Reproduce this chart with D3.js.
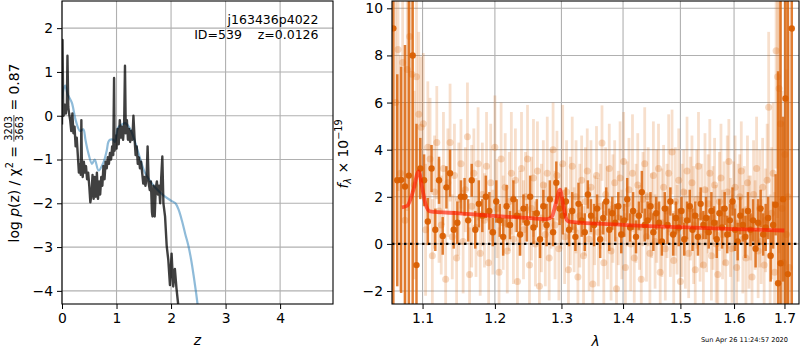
<!DOCTYPE html>
<html>
<head>
<meta charset="utf-8">
<script src="https://cdn.jsdelivr.net/npm/d3@7"></script>
<style>
  body { margin: 0; background: #fff; }
  svg { font-family: "DejaVu Sans", sans-serif; }
</style>
</head>
<body>
<div id="chart"></div>
<script>
// ---------- p(z) panel data ----------
const pzTicksX = [0, 1, 2, 3, 4];
const pzTicksY = [-4, -3, -2, -1, 0, 1, 2];

// fit p(z), dark line
const zFit = [
  0.00,0.01,0.02,0.03,0.05,0.07,0.09,0.10,0.115,0.13,
  0.15,0.17,0.19,0.21,0.23,0.25,0.27,0.29,0.31,0.33,
  0.345,0.355,0.365,0.38,0.40,0.42,0.44,0.46,0.48,0.50,
  0.52,0.54,0.56,0.58,0.60,0.62,0.64,0.66,0.68,0.70,
  0.72,0.74,0.76,0.78,0.80,0.82,0.84,0.86,0.88,0.90,
  0.92,0.94,0.955,0.965,0.98,1.00,1.02,1.04,1.06,1.08,
  1.10,1.12,1.14,1.155,1.17,1.19,1.21,1.23,1.25,1.27,
  1.29,1.31,1.33,1.35,1.37,1.39,1.41,1.43,1.45,1.47,
  1.49,1.51,1.53,1.55,1.57,1.59,1.61,1.63,1.65,1.66,
  1.68,1.70,1.72,1.74,1.76,1.78,1.80,1.82,1.84,1.86,
  1.89,1.92,1.95,1.98,2.01,2.04,2.07,2.10,2.13
];
const logpFit = [
  -0.2,1.73,0.3,0.0,0.25,0.05,0.3,1.37,0.2,0.05,
  -0.1,-0.35,0.05,-0.4,-0.25,-0.7,-0.5,-0.9,-1.3,-1.1,
  -1.35,-0.1,-1.2,-1.4,-1.05,-1.3,-1.15,-1.45,-1.3,-1.6,
  -1.98,-1.8,-1.35,-1.9,-1.4,-1.85,-1.3,-1.9,-1.5,-1.8,
  -1.4,-1.6,-1.15,-1.45,-1.05,-1.2,-0.95,-1.1,-0.85,-1.0,
  -0.7,-0.9,0.86,-0.8,-0.45,-0.75,-0.3,-0.65,-0.1,-0.5,
  -0.25,-0.55,-0.2,1.14,-0.4,-0.1,-0.55,-0.3,-0.6,-0.35,
  -0.55,0.0,-0.5,-0.9,-0.7,-1.1,-0.95,-1.2,-1.05,-1.3,
  -1.55,-1.4,-1.6,-1.45,-0.7,-1.55,-1.7,-1.5,-2.2,-2.3,
  -1.6,-2.3,-1.65,-1.5,-1.8,-1.6,-2.0,-1.4,-0.93,-2.0,
  -2.3,-2.97,-3.3,-3.87,-3.15,-3.9,-3.5,-3.95,-4.3
];

// prior / photo-z, light blue line
const zPrior = [
  0.0,0.03,0.06,0.10,0.18,0.25,0.33,0.39,0.43,0.48,
  0.55,0.60,0.67,0.76,0.82,0.85,0.88,0.94,0.97,1.03,
  1.10,1.16,1.25,1.34,1.43,1.52,1.61,1.71,1.86,2.00,
  2.08,2.14,2.20,2.26,2.32,2.37,2.42,2.46,2.49
];
const logpPrior = [
  0.37,0.62,0.69,0.5,0.3,-0.1,-0.35,-0.31,-0.55,-0.84,
  -1.1,-1.0,-1.25,-1.07,-0.8,-0.6,-0.55,-0.55,-0.6,-0.27,
  -0.2,-0.17,-0.3,-0.6,-0.97,-1.3,-1.48,-1.64,-1.82,-1.94,
  -2.0,-2.15,-2.4,-2.7,-2.98,-3.3,-3.7,-4.05,-4.35
];

// ---------- spectrum panel data ----------
const specTicksX = [1.1, 1.2, 1.3, 1.4, 1.5, 1.6, 1.7];
const specTicksY = [-2, 0, 2, 4, 6, 8, 10];

// binned spectrum (dark points)
const waveBin = [
  1.062,1.067,1.072,1.077,1.082,1.087,1.092,1.097,1.102,1.107,
  1.112,1.117,1.122,1.127,1.132,1.137,1.142,1.147,1.152,1.157,
  1.162,1.167,1.172,1.177,1.182,1.187,1.192,1.197,1.202,1.207,
  1.212,1.217,1.222,1.227,1.232,1.237,1.242,1.247,1.252,1.257,
  1.262,1.267,1.272,1.277,1.282,1.287,1.292,1.297,1.302,1.307,
  1.312,1.317,1.322,1.327,1.332,1.337,1.342,1.347,1.352,1.357,
  1.362,1.367,1.372,1.377,1.382,1.387,1.392,1.397,1.402,1.407,
  1.412,1.417,1.422,1.427,1.432,1.437,1.442,1.447,1.452,1.457,
  1.462,1.467,1.472,1.477,1.482,1.487,1.492,1.497,1.502,1.507,
  1.512,1.517,1.522,1.527,1.532,1.537,1.542,1.547,1.552,1.557,
  1.562,1.567,1.572,1.577,1.582,1.587,1.592,1.597,1.602,1.607,
  1.612,1.617,1.622,1.627,1.632,1.637,1.642,1.647,1.652,1.657,
  1.662,1.667,1.672,1.677,1.682,1.687,1.692,1.697,1.702,1.707,1.715
];
const fluxBin = [
  9.15,2.7,2.72,2.44,2.9,8.0,-0.9,3.2,2.7,0.95,
  3.2,0.6,2.7,0.34,2.4,3.0,0.6,0.9,2.0,2.0,
  1.0,2.7,0.6,1.7,1.2,2.0,1.4,0.5,1.8,1.0,
  0.3,1.6,0.8,1.9,1.2,0.4,1.5,0.9,2.0,0.7,
  1.3,0.2,1.6,0.8,1.9,0.5,2.6,1.5,1.2,1.8,
  0.6,1.4,0.3,1.7,1.0,0.5,2.1,1.2,0.8,1.5,
  0.2,1.1,1.8,0.6,1.3,0.9,1.6,0.4,1.0,1.9,
  0.7,1.4,0.3,1.2,2.2,0.8,1.0,1.6,0.5,1.3,
  0.9,0.1,1.5,0.8,1.8,0.4,1.1,0.7,1.4,0.2,
  1.0,1.6,0.6,1.2,0.3,1.7,0.8,1.1,0.5,1.4,
  0.9,0.2,1.3,0.7,1.5,0.4,1.0,1.8,0.6,0.1,
  1.2,0.8,0.3,1.4,0.6,1.0,-0.2,0.9,1.5,0.4,
  0.7,1.1,-0.5,0.8,1.66,-1.67,-0.82,1.9,6.17,-1.28,9.14
];
const errBin = [
  12,4.5,4.8,6,11,12,6,1.3,1.1,1.0,
  1.0,0.9,1.0,0.8,0.9,1.0,0.8,0.9,0.7,0.8,
  0.9,0.7,0.8,1.0,0.7,0.9,0.8,0.6,0.9,0.7,
  0.8,0.9,0.6,0.8,0.7,0.9,0.6,0.8,0.9,0.7,
  0.6,0.8,0.7,0.9,0.8,0.6,0.9,0.7,0.8,0.6,
  0.7,0.8,0.6,0.9,0.7,0.8,0.6,0.7,0.9,0.6,
  0.8,0.7,0.6,0.9,0.7,0.8,0.6,0.8,0.7,0.9,
  0.6,0.8,0.7,0.6,0.9,0.7,0.8,0.6,0.8,0.7,
  0.9,0.6,0.7,0.8,0.6,0.9,0.7,0.8,0.6,0.7,
  0.8,0.7,0.9,0.6,0.8,0.7,0.6,0.9,0.7,0.8,
  0.7,0.8,0.6,0.9,0.7,0.8,0.7,0.6,0.9,0.8,
  0.8,0.7,0.9,0.8,0.7,0.9,0.8,1.0,0.8,0.9,
  1.0,0.9,1.1,1.0,1.3,9,12,3.5,12,12,12
];

// unbinned spectrum (faint points)
const waveRaw = [
  1.065,1.068,1.071,1.074,1.077,1.080,1.083,1.086,1.089,1.092,
  1.095,1.098,1.101,1.104,1.107,1.110,1.113,1.116,1.119,1.122,
  1.125,1.128,1.131,1.134,1.137,1.140,1.143,1.146,1.149,1.152,
  1.155,1.158,1.161,1.164,1.167,1.170,1.173,1.176,1.179,1.182,
  1.185,1.188,1.191,1.194,1.197,1.200,1.203,1.206,1.209,1.212,
  1.215,1.218,1.221,1.224,1.227,1.230,1.233,1.236,1.239,1.242,
  1.245,1.248,1.251,1.254,1.257,1.260,1.263,1.266,1.269,1.272,
  1.275,1.278,1.281,1.284,1.287,1.290,1.293,1.296,1.299,1.302,
  1.305,1.308,1.311,1.314,1.317,1.320,1.323,1.326,1.329,1.332,
  1.335,1.338,1.341,1.344,1.347,1.350,1.353,1.356,1.359,1.362,
  1.365,1.368,1.371,1.374,1.377,1.380,1.383,1.386,1.389,1.392,
  1.395,1.398,1.401,1.404,1.407,1.410,1.413,1.416,1.419,1.422,
  1.425,1.428,1.431,1.434,1.437,1.440,1.443,1.446,1.449,1.452,
  1.455,1.458,1.461,1.464,1.467,1.470,1.473,1.476,1.479,1.482,
  1.485,1.488,1.491,1.494,1.497,1.500,1.503,1.506,1.509,1.512,
  1.515,1.518,1.521,1.524,1.527,1.530,1.533,1.536,1.539,1.542,
  1.545,1.548,1.551,1.554,1.557,1.560,1.563,1.566,1.569,1.572,
  1.575,1.578,1.581,1.584,1.587,1.590,1.593,1.596,1.599,1.602,
  1.605,1.608,1.611,1.614,1.617,1.620,1.623,1.626,1.629,1.632,
  1.635,1.638,1.641,1.644,1.647,1.650,1.653,1.656,1.659,1.662,
  1.665,1.668,1.671,1.674,1.677,1.680,1.683,1.686,1.689,1.692,
  1.695,1.698,1.701,1.704,1.707,1.710
];
const fluxRaw = [
  6.0,8.25,3.0,7.7,1.0,7.4,8.8,7.2,2.5,7.1,
  5.5,4.95,5.1,0.6,4.1,3.6,-0.5,2.2,4.3,1.4,
  0.8,3.2,-1.5,2.6,4.3,0.3,2.9,-0.6,1.9,3.4,
  0.1,2.3,4.55,-1.3,1.6,3.0,0.7,3.4,-0.4,2.1,
  1.0,3.3,-0.8,2.6,0.5,4.1,1.5,-1.2,3.6,0.9,
  2.4,-0.3,1.8,3.0,0.2,2.7,-1.6,1.3,3.2,0.6,
  2.0,3.6,-0.9,1.5,2.8,0.0,3.1,-1.8,1.1,2.5,
  0.4,3.0,-0.6,1.9,4.0,0.8,2.9,-0.2,1.6,3.4,
  0.3,2.2,-1.1,1.4,3.3,0.6,2.0,-1.4,1.2,2.7,
  -0.5,1.8,3.1,0.2,2.4,-1.7,1.0,2.9,0.5,1.6,
  4.28,-0.8,2.1,0.9,3.2,-0.3,1.5,2.6,-1.9,1.1,
  2.8,0.4,3.5,-1.0,1.7,2.3,0.0,3.0,-0.6,1.3,
  2.5,0.7,-1.5,1.9,3.4,0.3,2.0,-0.4,1.2,2.9,
  0.1,1.6,3.2,-1.2,0.9,2.4,-0.2,1.4,3.0,0.5,
  3.9,-0.7,1.8,0.6,2.7,-1.6,1.0,2.2,0.2,3.1,
  -0.4,1.5,2.6,0.8,-1.1,1.9,3.3,0.3,1.2,-0.9,
  2.3,0.6,1.7,3.0,-0.5,1.1,2.5,0.0,-1.3,1.8,
  2.8,0.4,1.3,-0.8,2.2,3.5,0.7,-0.2,1.6,2.4,
  -1.0,0.9,2.0,3.1,0.2,1.4,-0.6,2.6,0.5,1.1,
  -1.4,2.1,0.8,3.2,-0.3,1.5,0.1,2.4,-0.9,1.0,
  2.7,5.8,-0.5,1.3,3.0,-1.2,8.2,7.1,6.6,5.1,
  1.5,-0.8,3.8,0.4,2.0,-1.0
];
const errRaw = [
  6,6,5,6,5,6,6,5,4,4,
  3.5,3,3,2.8,2.8,2.6,2.4,2.4,2.4,2.2,
  2.1,2.4,1.9,2.3,2.5,1.8,2.2,2.0,2.4,1.9,
  2.2,1.8,2.3,2.0,2.6,1.9,2.1,2.4,1.8,2.2,
  2.0,2.3,1.9,2.5,1.8,2.2,2.1,1.9,2.4,2.0,
  2.3,1.8,2.1,2.6,1.9,2.2,2.0,1.8,2.4,2.1,
  1.9,2.3,2.0,2.2,2.5,1.8,2.1,2.0,2.3,1.9,
  2.2,2.4,1.8,2.1,2.0,2.3,1.9,2.2,1.8,2.5,
  2.0,2.2,1.9,2.3,2.1,1.8,2.4,2.0,2.2,1.9,
  2.1,2.3,1.8,2.2,2.0,2.5,1.9,2.1,2.3,1.8,
  1.6,2.2,2.0,2.4,1.9,2.1,2.3,1.8,2.2,2.0,
  2.4,1.9,2.1,2.3,1.8,2.2,2.0,2.5,1.9,2.1,
  2.2,1.8,2.3,2.0,2.4,1.9,2.1,2.2,1.8,2.3,
  2.0,2.4,1.9,2.1,2.3,1.8,2.2,2.0,2.5,1.9,
  1.8,2.1,2.3,1.9,2.2,2.0,2.4,1.8,2.1,2.3,
  1.9,2.2,2.0,2.5,1.8,2.1,2.3,1.9,2.2,2.0,
  2.4,1.8,2.1,2.3,1.9,2.2,2.0,2.5,1.8,2.1,
  2.3,1.9,2.2,2.0,2.4,1.8,2.1,2.3,1.9,2.2,
  2.0,2.5,1.8,2.1,2.3,1.9,2.2,2.0,2.4,1.8,
  2.1,2.3,1.9,2.2,2.0,2.5,1.8,2.1,2.3,2.2,
  2.4,3.2,2.6,2.8,3.0,3.4,5,6,7,6,
  5,6,8,7,9,10
];

// best-fit template (red line)
const waveModel = [1.073,1.080,1.088,1.0947,1.100,1.1036,1.110,1.150,1.198,1.240,1.277,1.285,1.291,1.2978,1.303,1.3083,1.312,1.400,1.500,1.600,1.700];
const fluxModel = [1.55,1.62,2.3,3.08,2.3,1.73,1.38,1.3,1.19,1.12,1.05,1.15,1.7,2.3,1.6,1.02,0.95,0.81,0.71,0.63,0.57];

const W = 800, H = 350;
const svg = d3.select("#chart").append("svg")
    .attr("width", W).attr("height", H);

const gridColor = "#b0b0b0";
const orange = "#d95f02";

function styleAxis(g) {
    g.select(".domain").remove();
    g.selectAll(".tick line").attr("stroke", "#000").attr("stroke-width", 1);
    g.selectAll(".tick text").attr("font-size", 13.9).attr("fill", "#000")
        .attr("font-family", "DejaVu Sans");
}

function drawPz() {
    const box = {left: 62, right: 333, top: 1, bottom: 304};

    var x = d3.scaleLinear().domain([0, 4.97]).range([box.left, box.right]);
    var y = d3.scaleLinear().domain([-4.3, 2.62]).range([box.bottom, box.top]);

    // grid
    svg.append("g").selectAll("line").data(pzTicksX).enter().append("line")
        .attr("x1", d => x(d)).attr("x2", d => x(d))
        .attr("y1", box.top).attr("y2", box.bottom)
        .attr("stroke", gridColor).attr("stroke-width", 1.1);
    svg.append("g").selectAll("line").data(pzTicksY).enter().append("line")
        .attr("x1", box.left).attr("x2", box.right)
        .attr("y1", d => y(d)).attr("y2", d => y(d))
        .attr("stroke", gridColor).attr("stroke-width", 1.1);

    svg.append("clipPath").attr("id", "clipPz").append("rect")
        .attr("x", box.left).attr("y", box.top)
        .attr("width", box.right - box.left).attr("height", box.bottom - box.top);

    const plot = svg.append("g").attr("clip-path", "url(#clipPz)");

    const priorLine = d3.line().x(d => x(d[0])).y(d => y(d[1])).curve(d3.curveCatmullRom);
    plot.append("path")
        .datum(zPrior.map((z, i) => [z, logpPrior[i]]))
        .attr("d", priorLine)
        .attr("fill", "none").attr("stroke", "#1f77b4")
        .attr("stroke-opacity", 0.5).attr("stroke-width", 2.2);

    const fitLine = d3.line().x(d => x(d[0])).y(d => y(d[1]));
    plot.append("path")
        .datum(zFit.map((z, i) => [z, logpFit[i]]))
        .attr("d", fitLine)
        .attr("fill", "none").attr("stroke", "#000")
        .attr("stroke-opacity", 0.75).attr("stroke-width", 2.4)
        .attr("stroke-linejoin", "round");

    // axes
    svg.append("g").attr("transform", "translate(0," + box.bottom + ")")
        .call(d3.axisBottom(x).tickValues(pzTicksX).tickFormat(d3.format("d")).tickSize(5).tickPadding(4))
        .call(styleAxis);
    svg.append("g").attr("transform", "translate(" + box.left + ",0)")
        .call(d3.axisLeft(y).tickValues(pzTicksY).tickFormat(d3.format("d")).tickSize(5).tickPadding(4))
        .call(styleAxis);

    svg.append("rect")
        .attr("x", box.left).attr("y", box.top)
        .attr("width", box.right - box.left).attr("height", box.bottom - box.top)
        .attr("fill", "none").attr("stroke", "#000").attr("stroke-width", 1.1);

    // x label
    svg.append("text")
        .attr("x", (box.left + box.right) / 2).attr("y", 345)
        .attr("text-anchor", "middle").attr("font-size", 13.9)
        .attr("font-style", "italic").text("z");

    // annotation
    svg.append("text").attr("x", 318.5).attr("y", 24)
        .attr("text-anchor", "end").attr("font-size", 12.5)
        .text("j163436p4022");
    svg.append("text").attr("x", 318.5).attr("y", 38.5)
        .attr("text-anchor", "end").attr("font-size", 12.5)
        .attr("xml:space", "preserve").style("white-space", "pre")
        .text("ID=539\u00a0\u00a0\u00a0\u00a0z=0.0126");

    // y label: log p(z) / chi^2 = 3203/3663 = 0.87
    const lab = svg.append("g").attr("transform", "translate(18.5,153) rotate(-90)");
    const partA = lab.append("text").attr("font-size", 13.9).style("white-space", "pre");
    partA.append("tspan").text("log ");
    partA.append("tspan").attr("font-style", "italic").text("p");
    partA.append("tspan").text("(z) / \u03c7");
    partA.append("tspan").attr("font-size", 9.7).attr("dy", -6).text("2");
    partA.append("tspan").attr("dy", 6).text(" = ");
    const num = lab.append("text").attr("font-size", 9.7).attr("text-anchor", "middle").text("3203");
    const den = lab.append("text").attr("font-size", 9.7).attr("text-anchor", "middle").text("3663");
    const partB = lab.append("text").attr("font-size", 13.9).style("white-space", "pre").text(" = 0.87");

    const wA = partA.node().getComputedTextLength();
    const wF = Math.max(num.node().getComputedTextLength(), den.node().getComputedTextLength()) + 2;
    const wB = partB.node().getComputedTextLength();
    const start = -(wA + wF + wB) / 2;
    partA.attr("x", start);
    num.attr("x", start + wA + wF / 2).attr("y", -6.5);
    den.attr("x", start + wA + wF / 2).attr("y", 4.5);
    lab.append("line")
        .attr("x1", start + wA).attr("x2", start + wA + wF)
        .attr("y1", -4.6).attr("y2", -4.6)
        .attr("stroke", "#000").attr("stroke-width", 0.7);
    partB.attr("x", start + wA + wF);
}

function drawSpectrum() {
    const box = {left: 392, right: 799, top: 1, bottom: 304};

    var x = d3.scaleLog().domain([1.0603, 1.730]).range([box.left, box.right]);
    var y = d3.scaleLinear().domain([-2.55, 10.31]).range([box.bottom, box.top]);

    svg.append("g").selectAll("line").data(specTicksX).enter().append("line")
        .attr("x1", d => x(d)).attr("x2", d => x(d))
        .attr("y1", box.top).attr("y2", box.bottom)
        .attr("stroke", gridColor).attr("stroke-width", 1.1);
    svg.append("g").selectAll("line").data(specTicksY).enter().append("line")
        .attr("x1", box.left).attr("x2", box.right)
        .attr("y1", d => y(d)).attr("y2", d => y(d))
        .attr("stroke", gridColor).attr("stroke-width", 1.1);

    svg.append("clipPath").attr("id", "clipSpec").append("rect")
        .attr("x", box.left).attr("y", box.top)
        .attr("width", box.right - box.left).attr("height", box.bottom - box.top);
    const plot = svg.append("g").attr("clip-path", "url(#clipSpec)");

    // faint unbinned points
    const raw = waveRaw.map((w, i) => ({w: w, f: fluxRaw[i], e: errRaw[i]}));
    plot.append("g").selectAll("line").data(raw).enter().append("line")
        .attr("x1", d => x(d.w)).attr("x2", d => x(d.w))
        .attr("y1", d => y(d.f - d.e)).attr("y2", d => y(d.f + d.e))
        .attr("stroke", orange).attr("stroke-opacity", 0.2).attr("stroke-width", 2.8);
    plot.append("g").selectAll("circle").data(raw).enter().append("circle")
        .attr("cx", d => x(d.w)).attr("cy", d => y(d.f)).attr("r", 3.5)
        .attr("fill", orange).attr("fill-opacity", 0.24);

    // binned points
    const bin = waveBin.map((w, i) => ({w: w, f: fluxBin[i], e: errBin[i]}));
    plot.append("g").selectAll("line").data(bin).enter().append("line")
        .attr("x1", d => x(d.w)).attr("x2", d => x(d.w))
        .attr("y1", d => y(d.f - d.e)).attr("y2", d => y(d.f + d.e))
        .attr("stroke", orange).attr("stroke-opacity", 0.8).attr("stroke-width", 2.5);
    plot.append("g").selectAll("circle").data(bin).enter().append("circle")
        .attr("cx", d => x(d.w)).attr("cy", d => y(d.f)).attr("r", 3.2)
        .attr("fill", orange).attr("fill-opacity", 0.95);

    // zero line
    plot.append("line")
        .attr("x1", box.left).attr("x2", box.right)
        .attr("y1", y(0)).attr("y2", y(0))
        .attr("stroke", "#000").attr("stroke-width", 2.2)
        .attr("stroke-dasharray", "2.4,3.6");

    // model
    plot.append("path")
        .datum(waveModel.map((w, i) => [w, fluxModel[i]]))
        .attr("d", d3.line().x(d => x(d[0])).y(d => y(d[1])).curve(d3.curveMonotoneX))
        .attr("fill", "none").attr("stroke", "#ff1a00")
        .attr("stroke-opacity", 0.65).attr("stroke-width", 3.8);

    svg.append("g").attr("transform", "translate(0," + box.bottom + ")")
        .call(d3.axisBottom(x).tickValues(specTicksX).tickFormat(d3.format(".1f")).tickSize(5).tickPadding(4))
        .call(styleAxis);
    svg.append("g").attr("transform", "translate(" + box.left + ",0)")
        .call(d3.axisLeft(y).tickValues(specTicksY).tickFormat(d3.format("d")).tickSize(5).tickPadding(4))
        .call(styleAxis);

    svg.append("rect")
        .attr("x", box.left).attr("y", box.top)
        .attr("width", box.right - box.left).attr("height", box.bottom - box.top)
        .attr("fill", "none").attr("stroke", "#000").attr("stroke-width", 1.1);

    // x label
    svg.append("text")
        .attr("x", (box.left + box.right) / 2).attr("y", 346)
        .attr("text-anchor", "middle").attr("font-size", 13.9)
        .attr("font-style", "italic").text("\u03bb");

    // y label f_lambda x 10^-19
    const yl = svg.append("text")
        .attr("transform", "translate(348,154) rotate(-90)")
        .attr("text-anchor", "middle").attr("font-size", 13.9)
        .style("white-space", "pre");
    yl.append("tspan").attr("font-style", "italic").text("f");
    yl.append("tspan").attr("font-size", 9.7).attr("font-style", "italic").attr("dy", 3).text("\u03bb");
    yl.append("tspan").attr("dy", -3).text(" \u00d7 10");
    yl.append("tspan").attr("font-size", 9.7).attr("dy", -6).text("\u221219");

    // timestamp
    svg.append("text").attr("x", 788).attr("y", 341.5)
        .attr("text-anchor", "end").attr("font-size", 6.6)
        .text("Sun Apr 26 11:24:57 2020");
}

drawPz();
drawSpectrum();
</script>
</body>
</html>
